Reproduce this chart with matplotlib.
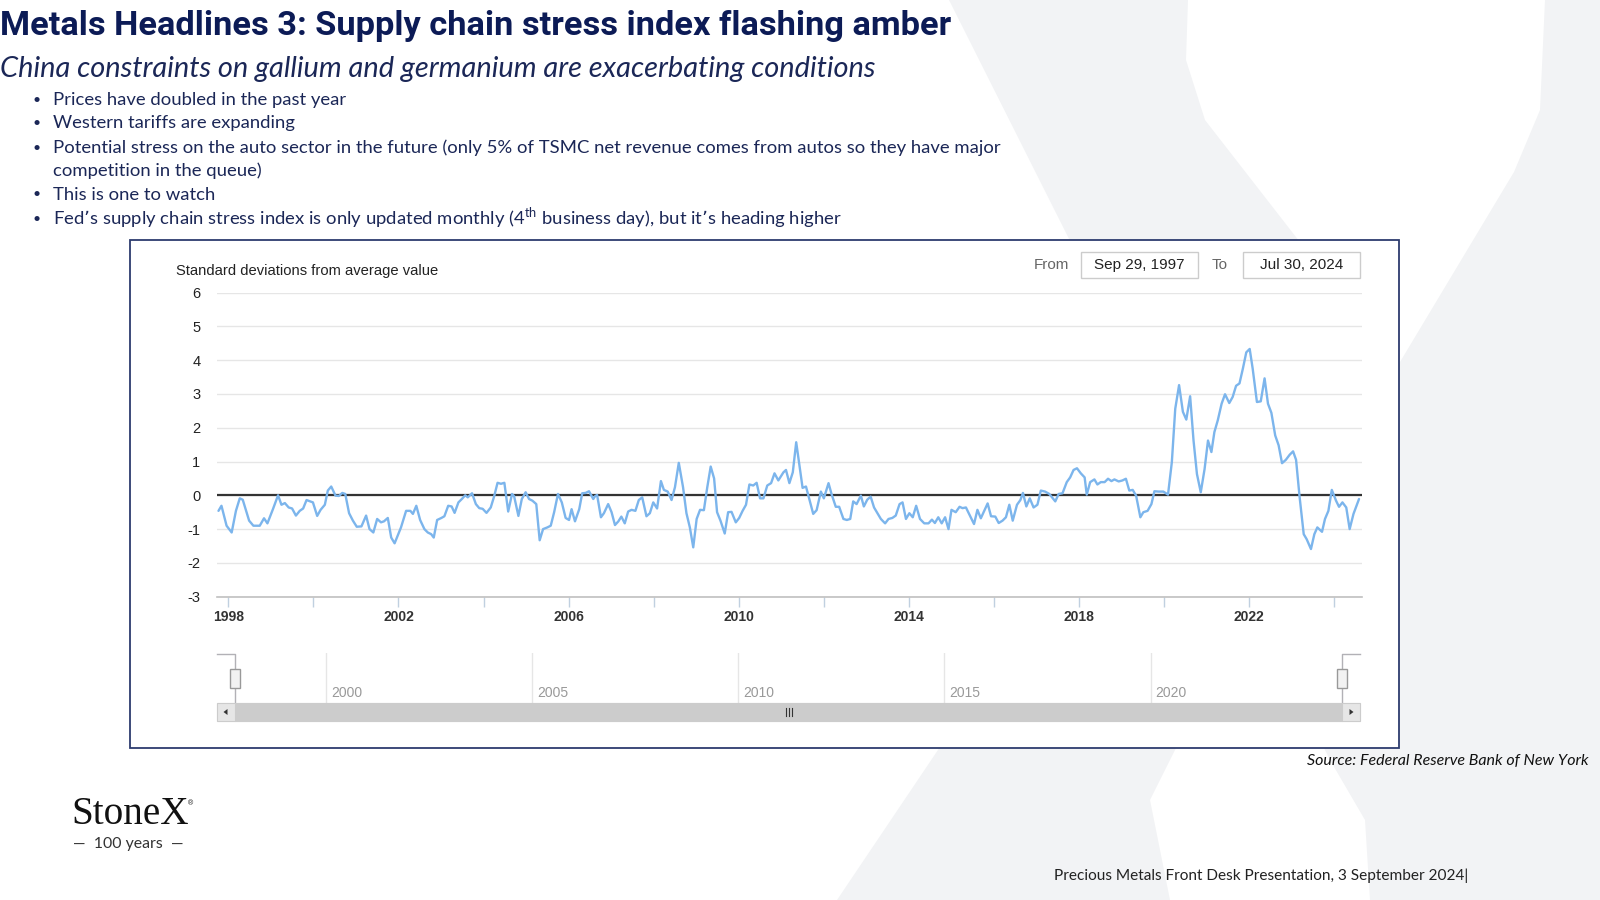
import matplotlib
matplotlib.use('Agg')
import matplotlib.pyplot as plt
from matplotlib import font_manager
from matplotlib.patches import Polygon, Rectangle
from matplotlib.lines import Line2D

# ---------------- texts ----------------
title = "Metals Headlines 3: Supply chain stress index flashing amber"
subtitle = "China constraints on gallium and germanium are exacerbating conditions"
bullet_marks = ["•", "•", "•", "", "•", "•"]
bullet_texts = [
    "Prices have doubled in the past year",
    "Western tariffs are expanding",
    "Potential stress on the auto sector in the future (only 5% of TSMC net revenue comes from autos so they have major",
    "competition in the queue)",
    "This is one to watch",
    "Fed’s supply chain stress index is only updated monthly (4$^{\\mathregular{th}}$ business day), but it’s heading higher",
]
y_axis_title = "Standard deviations from average value"
from_label = "From"
to_label = "To"
from_date = "Sep 29, 1997"
to_date = "Jul 30, 2024"
source = "Source: Federal Reserve Bank of New York"
footer = "Precious Metals Front Desk Presentation, 3 September 2024|"
logo = "StoneX"
logo_sub = "—  100 years  —"

# ---------------- data (GSCPI) ----------------
years = [
    1997.77, 1997.84, 1997.96, 1998.08, 1998.18, 1998.27, 1998.34, 1998.49, 1998.59, 1998.74,
    1998.84, 1998.92, 1999.05, 1999.17, 1999.25, 1999.33, 1999.42, 1999.50, 1999.59, 1999.68,
    1999.76, 1999.84, 1999.99, 2000.09, 2000.17, 2000.27, 2000.34, 2000.42, 2000.52, 2000.60,
    2000.68, 2000.75, 2000.84, 2000.93, 2001.02, 2001.13, 2001.24, 2001.32, 2001.41, 2001.50,
    2001.59, 2001.66, 2001.75, 2001.83, 2001.91, 2002.06,
    2002.18, 2002.28, 2002.34, 2002.42, 2002.51, 2002.61, 2002.69, 2002.77, 2002.83, 2002.91,
    2003.01, 2003.08, 2003.17, 2003.25, 2003.32, 2003.41, 2003.49, 2003.57, 2003.63, 2003.73,
    2003.82, 2003.90, 2003.98, 2004.07, 2004.17, 2004.25, 2004.33, 2004.41, 2004.49, 2004.58,
    2004.67, 2004.72, 2004.82, 2004.90, 2004.99, 2005.07, 2005.15, 2005.24, 2005.32, 2005.40,
    2005.50, 2005.58, 2005.66, 2005.75, 2005.84, 2005.93, 2006.01, 2006.07, 2006.15, 2006.25,
    2006.32, 2006.40, 2006.48,
    2006.58, 2006.62, 2006.67, 2006.76, 2006.83, 2006.93, 2007.01, 2007.09, 2007.17, 2007.24,
    2007.32, 2007.40, 2007.48, 2007.57, 2007.65, 2007.73, 2007.83, 2007.91, 2007.99, 2008.08,
    2008.17, 2008.24, 2008.33, 2008.42, 2008.50, 2008.59, 2008.69, 2008.77, 2008.85, 2008.93,
    2009.01, 2009.09, 2009.18, 2009.26, 2009.34, 2009.42, 2009.49, 2009.57, 2009.67, 2009.75,
    2009.83, 2009.93, 2010.01, 2010.09, 2010.17, 2010.25, 2010.34, 2010.42, 2010.50, 2010.58,
    2010.67, 2010.76, 2010.84, 2010.93,
    2011.05, 2011.11, 2011.19, 2011.27, 2011.35, 2011.42, 2011.50, 2011.58, 2011.68, 2011.75,
    2011.83, 2011.93, 2012.00, 2012.11, 2012.18, 2012.28, 2012.36, 2012.46, 2012.54, 2012.62,
    2012.69, 2012.77, 2012.87, 2012.94, 2013.02, 2013.10, 2013.18, 2013.26, 2013.34, 2013.44,
    2013.52, 2013.61, 2013.69, 2013.78, 2013.85, 2013.93, 2014.01, 2014.09, 2014.17, 2014.26,
    2014.36, 2014.46, 2014.54, 2014.61, 2014.69, 2014.77, 2014.85, 2014.93, 2015.00, 2015.10,
    2015.19, 2015.26, 2015.34,
    2015.53, 2015.61, 2015.69, 2015.85, 2015.93, 2016.03, 2016.11, 2016.20, 2016.28, 2016.36,
    2016.44, 2016.54, 2016.62, 2016.68, 2016.76, 2016.84, 2016.93, 2017.02, 2017.10, 2017.20,
    2017.30, 2017.44, 2017.52, 2017.61, 2017.71, 2017.79, 2017.87, 2017.95, 2018.04, 2018.13,
    2018.18, 2018.26, 2018.36, 2018.43, 2018.51, 2018.60, 2018.68, 2018.76, 2018.83, 2018.93,
    2019.02, 2019.10, 2019.18, 2019.26, 2019.34, 2019.44, 2019.51, 2019.61, 2019.70, 2019.77,
    2019.87,
    2019.98, 2020.09, 2020.18, 2020.26, 2020.35, 2020.44, 2020.52, 2020.61, 2020.69, 2020.77,
    2020.86, 2020.95, 2021.03, 2021.11, 2021.18, 2021.26, 2021.35, 2021.43, 2021.53, 2021.61,
    2021.69, 2021.77, 2021.85, 2021.93, 2022.01, 2022.08, 2022.18, 2022.27, 2022.36, 2022.44,
    2022.52, 2022.61, 2022.69, 2022.77, 2022.86, 2022.95, 2023.03, 2023.10, 2023.18, 2023.28,
    2023.35, 2023.45, 2023.53, 2023.60, 2023.71, 2023.78, 2023.86, 2023.94, 2024.04, 2024.11,
    2024.19, 2024.28, 2024.36, 2024.45, 2024.58,
]
values = [
    -0.46, -0.31, -0.90, -1.10, -0.46, -0.09, -0.13, -0.75, -0.90, -0.90,
    -0.68, -0.83, -0.41, 0.00, -0.28, -0.23, -0.36, -0.39, -0.60, -0.46,
    -0.39, -0.14, -0.21, -0.61, -0.43, -0.28, 0.14, 0.26, -0.01, -0.02,
    0.07, 0.04, -0.53, -0.75, -0.93, -0.92, -0.60, -1.00, -1.10, -0.70,
    -0.80, -0.77, -0.67, -1.25, -1.42, -0.95,
    -0.46, -0.46, -0.55, -0.31, -0.73, -1.00, -1.10, -1.15, -1.25, -0.73,
    -0.67, -0.62, -0.31, -0.33, -0.52, -0.21, -0.11, 0.00, -0.06, 0.06,
    -0.26, -0.38, -0.40, -0.52, -0.36, -0.03, 0.37, 0.34, 0.37, -0.48,
    0.04, -0.03, -0.61, -0.11, 0.09, -0.11, -0.16, -0.26, -1.33, -1.00,
    -0.95, -0.90, -0.50, 0.04, -0.21, -0.67, -0.73, -0.41, -0.77, -0.41,
    0.06, 0.07, 0.12,
    -0.11, -0.03, 0.01, -0.65, -0.53, -0.26, -0.50, -0.88, -0.77, -0.63,
    -0.83, -0.48, -0.43, -0.46, -0.14, -0.06, -0.62, -0.53, -0.21, -0.39,
    0.42, 0.16, 0.11, -0.14, 0.24, 0.96, 0.24, -0.53, -0.95, -1.54,
    -0.70, -0.43, -0.44, 0.24, 0.85, 0.50, -0.50, -0.75, -1.13, -0.50,
    -0.49, -0.80, -0.67, -0.46, -0.28, 0.32, 0.29, 0.37, -0.09, -0.09,
    0.29, 0.36, 0.65, 0.44,
    0.68, 0.75, 0.36, 0.68, 1.57, 0.93, 0.22, 0.26, -0.21, -0.55,
    -0.44, 0.11, -0.09, 0.36, 0.04, -0.34, -0.34, -0.70, -0.73, -0.70,
    -0.18, -0.26, -0.01, -0.33, -0.13, -0.04, -0.36, -0.53, -0.70, -0.83,
    -0.70, -0.67, -0.60, -0.26, -0.21, -0.70, -0.53, -0.65, -0.31, -0.70,
    -0.83, -0.83, -0.72, -0.82, -0.65, -0.83, -0.65, -1.00, -0.43, -0.50,
    -0.34, -0.38, -0.36,
    -0.85, -0.43, -0.68, -0.24, -0.62, -0.63, -0.82, -0.75, -0.65, -0.28,
    -0.75, -0.28, -0.14, 0.07, -0.33, -0.09, -0.36, -0.28, 0.14, 0.11,
    0.04, -0.18, 0.04, 0.06, 0.39, 0.53, 0.75, 0.80, 0.65, 0.53,
    0.02, 0.39, 0.47, 0.32, 0.39, 0.39, 0.49, 0.42, 0.47, 0.41,
    0.44, 0.49, 0.14, 0.16, -0.01, -0.65, -0.50, -0.46, -0.26, 0.12,
    0.11,
    0.11, 0.02, 0.98, 2.56, 3.26, 2.47, 2.24, 2.93, 1.62, 0.63,
    0.09, 0.78, 1.62, 1.28, 1.87, 2.22, 2.71, 2.99, 2.73, 2.91,
    3.24, 3.31, 3.75, 4.23, 4.33, 3.75, 2.76, 2.78, 3.46, 2.71,
    2.44, 1.77, 1.48, 0.95, 1.05, 1.20, 1.30, 1.05, -0.01, -1.15,
    -1.30, -1.59, -1.15, -0.95, -1.08, -0.70, -0.46, 0.16, -0.16, -0.34,
    -0.21, -0.36, -1.00, -0.55, -0.11,
]
y_ticks = [-3, -2, -1, 0, 1, 2, 3, 4, 5, 6]
x_ticks = [1998, 2000, 2002, 2004, 2006, 2008, 2010, 2012, 2014, 2016, 2018, 2020, 2022, 2024]
x_tick_labels = ["1998", "", "2002", "", "2006", "", "2010", "", "2014", "", "2018", "", "2022", ""]
nav_ticks = [2000, 2005, 2010, 2015, 2020]
main_range = (1997.735, 2024.65)
nav_range = (1997.772, 2024.648)

# ---------------- fonts ----------------
available = {f.name for f in font_manager.fontManager.ttflist}
def pick(*names):
    fam = [n for n in names if n in available]
    return fam + ['DejaVu Sans']

TITLE_FONT = pick('Liberation Sans Narrow', 'Roboto', 'Liberation Sans')
BODY_FONT = pick('Lato', 'Open Sans', 'Noto Sans')
ARIAL = pick('Liberation Sans', 'Roboto')
SERIF = pick('Liberation Serif', 'DejaVu Serif')

NAVY = '#0c1b56'
TEXT_NAVY = '#1b2757'

W, H = 1600, 900
fig = plt.figure(figsize=(16, 9), dpi=100)
fig.patch.set_facecolor('white')
renderer = fig.canvas.get_renderer()


def F(x, y):
    return (x / W, 1 - y / H)


def fit(t, target_w):
    w = t.get_window_extent(renderer).width
    t.set_fontsize(t.get_fontsize() * target_w / w)
    return t.get_fontsize()

# ---------------- background watermark "X" ----------------
bg_pts = [(949, 0), (1188, 0), (1186, 60), (1205, 120), (1397, 367), (1514, 172), (1540, 110),
          (1545, 0), (1600, 0), (1600, 900), (1370, 900), (1365, 820), (1330, 760), (1250, 600),
          (1150, 800), (1170, 900), (837, 900), (1160, 420)]
fig.add_artist(Polygon([F(x, y) for x, y in bg_pts], closed=True, transform=fig.transFigure,
                       facecolor='#f2f3f5', edgecolor='none', zorder=0))

# ---------------- header texts ----------------
t = fig.text(0.0, F(0, 34.7)[1], title, family=TITLE_FONT, fontweight='bold', color=NAVY,
             fontsize=26, ha='left', va='baseline', zorder=5)
fit(t, 951)

t = fig.text(0.0, F(0, 77.5)[1], subtitle, family=BODY_FONT, style='italic', fontweight='normal',
             color=TEXT_NAVY, fontsize=19, ha='left', va='baseline', zorder=5)
fit(t, 875)

baselines = [104.6, 128.1, 152.6, 176.0, 199.5, 224.0]
probe = fig.text(F(53, 0)[0], F(0, baselines[2])[1], bullet_texts[2], family=BODY_FONT,
                 color=TEXT_NAVY, fontsize=13, ha='left', va='baseline', zorder=5)
bsize = fit(probe, 944)
probe.remove()
for mark, txt, yb in zip(bullet_marks, bullet_texts, baselines):
    if mark:
        fig.text(F(32, 0)[0], F(0, yb - 1)[1], mark, family=BODY_FONT, color=TEXT_NAVY,
                 fontsize=bsize * 0.75, ha='left', va='baseline', zorder=5)
    fig.text(F(53, 0)[0], F(0, yb)[1], txt, family=BODY_FONT, color=TEXT_NAVY,
             fontsize=bsize, ha='left', va='baseline', zorder=5)

# ---------------- chart frame ----------------
x0, y0 = F(129.6, 748)
x1, y1 = F(1399, 239.8)
fig.add_artist(Rectangle((x0, y0), x1 - x0, y1 - y0, transform=fig.transFigure,
                         facecolor='white', edgecolor='#2d3c6e', lw=1.3, zorder=1))

fig.text(F(175.5, 0)[0], F(0, 274.5)[1], y_axis_title, family=ARIAL, color='#222222',
         fontsize=10.6, ha='left', va='baseline', zorder=5)

# range selector
fig.text(F(1034, 0)[0], F(0, 264.8)[1], from_label, family=ARIAL, color='#666666',
         fontsize=11, ha='left', va='center', zorder=5)
fig.text(F(1212, 0)[0], F(0, 264.8)[1], to_label, family=ARIAL, color='#666666',
         fontsize=11, ha='left', va='center', zorder=5)
for (bx0, bx1), label in [((1080.6, 1198), from_date), ((1243, 1360), to_date)]:
    a, b = F(bx0, 277.5)
    c, d = F(bx1, 252)
    fig.add_artist(Rectangle((a, b), c - a, d - b, transform=fig.transFigure,
                             facecolor='white', edgecolor='#cccccc', lw=1, zorder=2))
    fig.text((a + c) / 2, F(0, 264.8)[1], label, family=ARIAL, color='#222222',
             fontsize=11, ha='center', va='center', zorder=5)

# ---------------- main axes ----------------
ax = fig.add_axes([217 / W, 1 - 596.7 / H, (1362 - 217) / W, (596.7 - 292.5) / H], zorder=3)
ax.set_facecolor('none')
ax.set_xlim(*main_range)
ax.set_ylim(-3, 6)
ax.set_yticks(y_ticks)
ax.set_yticklabels([str(v) for v in y_ticks], family=ARIAL, fontsize=10.5, color='#222222')
ax.set_xticks(x_ticks)
ax.set_xticklabels(x_tick_labels, family=ARIAL, fontsize=10, fontweight='bold', color='#333333')
ax.tick_params(axis='y', length=0, pad=12)
ax.tick_params(axis='x', direction='out', length=7.5, width=1, color='#c0d0e0', pad=2)
ax.yaxis.grid(True, color='#e6e6e6', lw=1)
ax.set_axisbelow(True)
for s in ['top', 'left', 'right']:
    ax.spines[s].set_visible(False)
ax.spines['bottom'].set_color('#c0c0c0')
ax.spines['bottom'].set_linewidth(1.2)
ax.axhline(0, color='#333333', lw=1.6, zorder=3)
ax.plot(years, values, color='#7cb5ec', lw=1.7, zorder=4, solid_joinstyle='round',
        solid_capstyle='round')

# ---------------- navigator ----------------
nav = fig.add_axes([234.7 / W, 1 - 703 / H, (1342 - 234.7) / W, 50 / H], zorder=3)
nav.set_xlim(*nav_range)
nav.set_ylim(0, 1)
nav.set_axis_off()
for yr in nav_ticks:
    nav.axvline(yr, color='#e6e6e6', lw=1)
    nav.annotate(str(yr), xy=(yr, 0.2), xycoords=('data', 'axes fraction'), xytext=(3.5, 0),
                 textcoords='offset points', family=ARIAL, fontsize=10, color='#999999',
                 ha='left', va='center')

def fline(pts, color, lw):
    fig.add_artist(Line2D([F(x, y)[0] for x, y in pts], [F(x, y)[1] for x, y in pts],
                          transform=fig.transFigure, color=color, lw=lw, zorder=4))

outline = '#b2b1b6'
fline([(217, 653.5), (234.7, 653.5), (234.7, 703)], outline, 1)
fline([(1360, 653.5), (1342, 653.5), (1342, 703)], outline, 1)

def frect(xa, ya, xb, yb, fc, ec, lw=0.8, z=4):
    a, b = F(xa, yb)
    c, d = F(xb, ya)
    fig.add_artist(Rectangle((a, b), c - a, d - b, transform=fig.transFigure,
                             facecolor=fc, edgecolor=ec, lw=lw, zorder=z))

# scrollbar
frect(217, 703, 1360, 721, '#f2f2f2', '#e0e0e0')
frect(234.7, 703.5, 1342, 720.5, '#cccccc', '#cccccc')
frect(217, 703, 234.7, 721, '#e6e6e6', '#cccccc')
frect(1342, 703, 1360, 721, '#e6e6e6', '#cccccc')
fig.add_artist(Polygon([F(223.5, 712), F(227.5, 709), F(227.5, 715)], transform=fig.transFigure,
                       facecolor='#333333', edgecolor='none', zorder=5))
fig.add_artist(Polygon([F(1353.5, 712), F(1349.5, 709), F(1349.5, 715)], transform=fig.transFigure,
                       facecolor='#333333', edgecolor='none', zorder=5))
for gx in (785.5, 788.5, 791.5):
    fline([(gx, 708), (gx, 716)], '#333333', 0.8)

# handles
for hx in (234.7, 1342):
    frect(hx - 5, 668.5, hx + 5, 687.5, '#f2f2f2', '#999999', lw=1, z=5)
    for dx in (-1.5, 1.5):
        fline([(hx + dx, 673), (hx + dx, 683)], '#666666', 0.7)

# ---------------- footer ----------------
t = fig.text(F(1589, 0)[0], F(0, 765)[1], source, family=BODY_FONT, style='italic',
             color='#111111', fontsize=11, ha='right', va='baseline', zorder=5)
fit(t, 282)

t = fig.text(F(1054, 0)[0], F(0, 879.6)[1], footer, family=BODY_FONT, color='#222222',
             fontsize=11, ha='left', va='baseline', zorder=5)
fit(t, 412)

t = fig.text(F(71, 0)[0], F(0, 824.5)[1], logo, family=SERIF, color='#111111',
             fontsize=28, ha='left', va='baseline', zorder=5)
fit(t, 118)
fig.text(F(188, 0)[0], F(0, 805)[1], '®', family=ARIAL, color='#111111', fontsize=5,
         ha='left', va='baseline', zorder=5)
t = fig.text(F(128.5, 0)[0], F(0, 848)[1], logo_sub, family=BODY_FONT, fontweight='normal',
             color='#333333', fontsize=11, ha='center', va='baseline', zorder=5)
fit(t, 110)

fig.savefig('out.png', dpi=100, facecolor='white')
